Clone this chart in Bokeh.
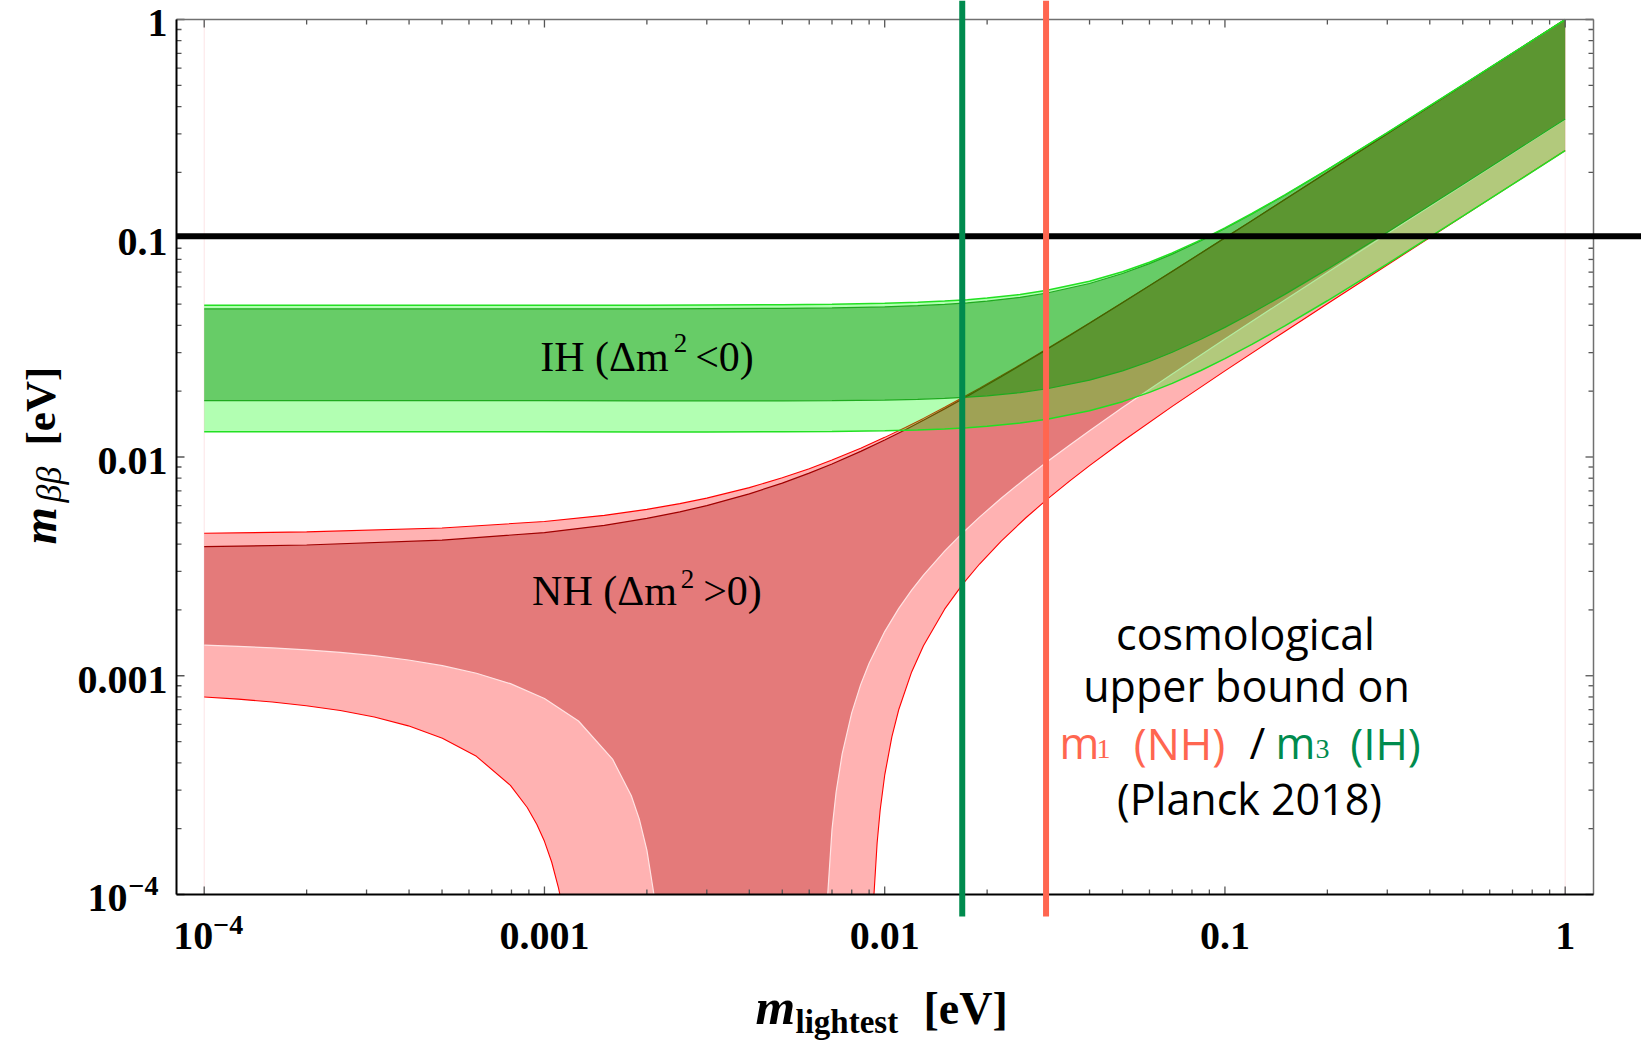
import math
from bokeh.plotting import figure
from bokeh.models import Range1d
from bokeh.core.properties import value
from bokeh.embed import file_html
from bokeh.resources import INLINE

# ---------------- data ----------------
# Normal hierarchy (lightest = m1): upper edges
nh_x = [1e-4, 2e-4, 5e-4, 1e-3, 1.5e-3, 2e-3, 2.5e-3, 3e-3, 4e-3, 5e-3, 6e-3, 7e-3, 8.5e-3,
        0.01, 0.0115, 0.013, 0.015, 0.017, 0.019, 0.022, 0.026, 0.03, 0.035, 0.04, 0.05,
        0.06, 0.07, 0.085, 0.1, 0.12, 0.15, 0.2, 0.3, 0.5, 0.7, 1.0]
nh_upper_outer = [0.004481, 0.004545, 0.004739, 0.00507, 0.00541, 0.00576, 0.006119,
                  0.006486, 0.007244, 0.008032, 0.008846, 0.009682, 0.010972, 0.012295,
                  0.013644, 0.015015, 0.016868, 0.018743, 0.020636, 0.0235, 0.027352,
                  0.031231, 0.036107, 0.041006, 0.050848, 0.060731, 0.070642, 0.085541,
                  0.100466, 0.120394, 0.150318, 0.200241, 0.300162, 0.500097, 0.70007,
                  1.00005]
nh_upper_inner = [0.003893, 0.003961, 0.004166, 0.004515, 0.004873, 0.005239, 0.005614,
                  0.005996, 0.006784, 0.007598, 0.008436, 0.009294, 0.010612, 0.011959,
                  0.01333, 0.01472, 0.016594, 0.018488, 0.020396, 0.02328, 0.027154,
                  0.03105, 0.035945, 0.040858, 0.050723, 0.060623, 0.070547, 0.08546,
                  0.100397, 0.120335, 0.150271, 0.200205, 0.300137, 0.500083, 0.700059,
                  1.00004]
# NH lower edges: two branches around the cancellation funnel (cut at the 1e-4 floor)
nh_lin_left_x = [1e-4, 1.259e-4, 1.585e-4, 1.995e-4, 2.512e-4, 3.162e-4, 3.981e-4,
                 5.012e-4, 6.31e-4, 7.943e-4, 1e-3, 1.259e-3, 1.585e-3, 1.8e-3, 1.9e-3,
                 2e-3, 2.098e-3]
nh_lin_left_y = [0.00138, 0.0013626, 0.0013406, 0.0013131, 0.0012785, 0.001235, 0.0011806,
                 0.0011123, 0.0010268, 0.0009202, 0.0007871, 0.000621, 0.000416, 0.0002826,
                 0.000221, 0.0001596, 0.0001]
nh_lin_right_x = [0.0068, 0.007, 0.0072, 0.0075, 0.008, 0.0085, 0.009, 0.01, 0.011, 0.012,
                  0.013, 0.015, 0.017, 0.019, 0.022, 0.026, 0.03, 0.035, 0.04, 0.05, 0.07,
                  0.1, 0.15, 0.2, 0.3, 0.5, 0.7, 1.0]
nh_lin_right_y = [0.0001, 0.000198, 0.000295, 0.000439, 0.000677, 0.000911, 0.001141,
                  0.001592, 0.002032, 0.002463, 0.002886, 0.003714, 0.00452, 0.005312,
                  0.006478, 0.008003, 0.009504, 0.011356, 0.01319, 0.016819, 0.023987,
                  0.034628, 0.052247, 0.069809, 0.104872, 0.174923, 0.244945, 0.349961]
nh_lout_left_x = [1e-4, 1.259e-4, 1.585e-4, 1.995e-4, 2.512e-4, 3.162e-4, 3.981e-4,
                  5.012e-4, 6.31e-4, 7.943e-4, 8.9e-4, 9.5e-4, 1e-3, 1.05e-3, 1.1e-3,
                  1.11e-3]
nh_lout_left_y = [0.0008, 0.0007818, 0.0007586, 0.0007297, 0.0006932, 0.0006476, 0.0005902,
                  0.0005181, 0.0004281, 0.0003155, 0.0002499, 0.0002089, 0.000175,
                  0.0001408, 0.0001069, 0.0001]
nh_lout_right_x = [0.0093, 0.0095, 0.0097, 0.01, 0.0105, 0.011, 0.012, 0.013, 0.015, 0.017,
                   0.019, 0.022, 0.026, 0.03, 0.035, 0.04, 0.05, 0.07, 0.1, 0.15, 0.2, 0.3,
                   0.5, 0.7, 1.0]
nh_lout_right_y = [0.0001, 0.000172, 0.000244, 0.000351, 0.000527, 0.000701, 0.001041,
                   0.001372, 0.002015, 0.002637, 0.003242, 0.004127, 0.005275, 0.006398,
                   0.007775, 0.009132, 0.011802, 0.017038, 0.024764, 0.037504, 0.050178,
                   0.075455, 0.125919, 0.176349, 0.251974]

# Inverted hierarchy (lightest = m3)
ih_x = [1e-4, 2e-4, 5e-4, 1e-3, 2e-3, 3e-3, 5e-3, 7e-3, 0.01, 0.0125, 0.015, 0.0175, 0.02,
        0.025, 0.03, 0.04, 0.05, 0.06, 0.07, 0.085, 0.1, 0.12, 0.15, 0.2, 0.3, 0.5, 0.7, 1.0]
ih_upper_outer = [0.049396, 0.049396, 0.049399, 0.049406, 0.049437, 0.049487, 0.049649,
                  0.04989, 0.050398, 0.050953, 0.051624, 0.052405, 0.053292, 0.055362,
                  0.057793, 0.063561, 0.070285, 0.077717, 0.085674, 0.098311, 0.111535,
                  0.129769, 0.157924, 0.20601, 0.304039, 0.502434, 0.70174, 1.0]
ih_upper_inner = [0.047539, 0.04754, 0.047542, 0.04755, 0.047581, 0.047634, 0.047802,
                  0.048052, 0.04858, 0.049155, 0.04985, 0.050658, 0.051575, 0.053712,
                  0.056214, 0.062129, 0.068993, 0.076551, 0.084617, 0.097391, 0.110724,
                  0.129074, 0.157353, 0.205572, 0.303743, 0.502255, 0.701612, 1.0]
ih_lower_inner = [0.018109, 0.018107, 0.018098, 0.018086, 0.018068, 0.018057, 0.018061,
                  0.018095, 0.018205, 0.018348, 0.018537, 0.018769, 0.019042, 0.019704,
                  0.020506, 0.022455, 0.024766, 0.027342, 0.030111, 0.034522, 0.039146,
                  0.045529, 0.055392, 0.072243, 0.106606, 0.176159, 0.246034, 0.35103]
ih_lower_outer = [0.01304, 0.013038, 0.013035, 0.01303, 0.013025, 0.013026, 0.013042,
                  0.01308, 0.013175, 0.013289, 0.013434, 0.013607, 0.013809, 0.014291,
                  0.014867, 0.01626, 0.017905, 0.019737, 0.021708, 0.024849, 0.028145,
                  0.032699, 0.039742, 0.051787, 0.076366, 0.126143, 0.176159, 0.251322]

# reference lines
bound_mbb = 0.102          # horizontal black line [eV]
bound_m3_ih = 0.0169       # cosmological bound on m3 (IH)
bound_m1_nh = 0.0298       # cosmological bound on m1 (NH)

# axes
box_x = [8.29e-5, 1.2112]          # x extent of the plot box
box_y = [1e-4, 1.0]                # y extent of the plot box
x_major = [1e-4, 1e-3, 1e-2, 1e-1, 1.0]
x_major_text = ["10", "0.001", "0.01", "0.1", "1"]
x_major_exp = ["\u22124", "", "", "", ""]
y_major = [1e-4, 1e-3, 1e-2, 1e-1, 1.0]
y_major_text = ["10", "0.001", "0.01", "0.1", "1"]
y_major_exp = ["\u22124", "", "", "", ""]
minor_mantissa = [2, 3, 4, 5, 6, 7, 8, 9]
x_minor = [m * t for t in x_major[:-1] for m in minor_mantissa]
y_minor = [m * t for t in y_major[:-1] for m in minor_mantissa]

# ---------------- geometry ----------------
W, H = 1641, 1043
BOX_L, BOX_R, BOX_T, BOX_B = 176, 1593, 19, 894      # plot box in canvas pixels
dec_x = (BOX_R - BOX_L) / math.log10(box_x[1] / box_x[0])
dec_y = (BOX_B - BOX_T) / math.log10(box_y[1] / box_y[0])
LX0 = math.log10(box_x[0]) - BOX_L / dec_x
LY0 = math.log10(box_y[1]) + BOX_T / dec_y


def X(px):
    return 10 ** (LX0 + px / dec_x)


def Y(py):
    return 10 ** (LY0 - py / dec_y)


def PX(xv):
    return (math.log10(xv) - LX0) * dec_x


def PY(yv):
    return (LY0 - math.log10(yv)) * dec_y


def dx(v, px):          # shift a data x value by px pixels
    return v * 10 ** (px / dec_x)


def dy(v, px):          # shift a data y value by px pixels (up is +)
    return v * 10 ** (px / dec_y)


p = figure(width=W, height=H, x_axis_type="log", y_axis_type="log",
           x_range=Range1d(X(0), X(W)), y_range=Range1d(Y(H), Y(0)),
           output_backend="svg", toolbar_location=None, title=None,
           x_axis_location=None, y_axis_location=None, min_border=0,
           background_fill_color="white", border_fill_color="white")
p.xgrid.visible = False
p.ygrid.visible = False
p.outline_line_color = None

# faint edges of the filled region
p.segment(x0=[ih_x[0], ih_x[-1]], y0=[box_y[0]] * 2, x1=[ih_x[0], ih_x[-1]],
          y1=[box_y[1]] * 2, line_color="#FCE4E6", line_width=1)

# ----- NH band -----
nh_out_px = nh_x + nh_lout_right_x[::-1] + nh_lout_left_x[::-1]
nh_out_py = nh_upper_outer + nh_lout_right_y[::-1] + nh_lout_left_y[::-1]
nh_in_px = nh_x + nh_lin_right_x[::-1] + nh_lin_left_x[::-1]
nh_in_py = nh_upper_inner + nh_lin_right_y[::-1] + nh_lin_left_y[::-1]
p.patch(nh_out_px, nh_out_py, fill_color="#FF0000", fill_alpha=0.30, line_color=None)
p.patch(nh_in_px, nh_in_py, fill_color="#A90000", fill_alpha=0.315, line_color=None)
p.line(nh_lin_left_x, nh_lin_left_y, line_color="#FFE4E4", line_width=1.2)
p.line(nh_lin_right_x, nh_lin_right_y, line_color="#FFE4E4", line_width=1.2)
p.line(nh_x, nh_upper_outer, line_color="#FF0000", line_width=1.1)
p.line(nh_x, nh_upper_inner, line_color="#A00000", line_width=1.2)
p.line(nh_lout_left_x, nh_lout_left_y, line_color="#FF0000", line_width=1.1)
p.line(nh_lout_right_x, nh_lout_right_y, line_color="#FF0000", line_width=1.1)

# ----- IH band -----
p.patch(ih_x + ih_x[::-1], ih_upper_outer + ih_lower_outer[::-1],
        fill_color="#00FF00", fill_alpha=0.30, line_color=None)
p.patch(ih_x + ih_x[::-1], ih_upper_inner + ih_lower_inner[::-1],
        fill_color="#008600", fill_alpha=0.42, line_color=None)
p.line(ih_x, ih_upper_inner, line_color="#1FAA1F", line_width=1.2)
p.line(ih_x, ih_lower_inner, line_color="#1FAA1F", line_width=1.2)
p.line(ih_x, ih_upper_outer, line_color="#22E022", line_width=1.5)
p.line(ih_x, ih_lower_outer, line_color="#22E022", line_width=1.5)

# ----- frame and ticks -----
TICK = "#555555"
for ticks, ln in [(x_major, 8), (x_minor, 5)]:
    p.segment(x0=ticks, x1=ticks, y0=[box_y[0]] * len(ticks),
              y1=[dy(box_y[0], ln)] * len(ticks), line_color=TICK, line_width=1.3)
    p.segment(x0=ticks, x1=ticks, y0=[box_y[1]] * len(ticks),
              y1=[dy(box_y[1], -ln)] * len(ticks), line_color=TICK, line_width=1.3)
for ticks, ln in [(y_major, 8), (y_minor, 5)]:
    p.segment(y0=ticks, y1=ticks, x0=[box_x[0]] * len(ticks),
              x1=[dx(box_x[0], ln)] * len(ticks), line_color=TICK, line_width=1.3)
    p.segment(y0=ticks, y1=ticks, x0=[box_x[1]] * len(ticks),
              x1=[dx(box_x[1], -ln)] * len(ticks), line_color=TICK, line_width=1.3)
# top / right (grey), bottom / left (black)
p.segment(x0=[box_x[0], box_x[1]], y0=[box_y[1], box_y[0]], x1=[box_x[1], box_x[1]],
          y1=[box_y[1], box_y[1]], line_color="#707070", line_width=1.5)
p.segment(x0=[box_x[0], box_x[0]], y0=[box_y[0], box_y[0]], x1=[box_x[1], box_x[0]],
          y1=[box_y[0], box_y[1]], line_color="black", line_width=2)

# ----- bound lines (they run past the plot box, as in the reference) -----
p.segment(x0=[box_x[0]], x1=[X(W)], y0=[bound_mbb], y1=[bound_mbb],
          line_color="black", line_width=6)
p.segment(x0=[bound_m3_ih], x1=[bound_m3_ih], y0=[Y(0)], y1=[dy(box_y[0], -22)],
          line_color="#008B4E", line_width=6)
p.segment(x0=[bound_m1_nh], x1=[bound_m1_nh], y0=[Y(0)], y1=[dy(box_y[0], -22)],
          line_color="#FF6650", line_width=6)

# ----- text helpers (positions in canvas pixels of the text baseline) -----
BASE_FIX = 0.34      # renderer draws "alphabetic" text this many em too low


def txt(px, py, text, font="Liberation Serif", size=40, style="normal", color="black",
        align="center", angle=0.0):
    if angle == 0.0:
        py = py - BASE_FIX * size
    else:
        px = px - BASE_FIX * size
    p.text(x=[X(px)], y=[Y(py)], text=[text], text_font=value(font),
           text_font_size=value(f"{size}px"), text_font_style=value(style),
           text_color=color, text_align=value(align), text_baseline=value("alphabetic"),
           angle=angle)


# tick labels (bold serif); powers of ten get a raised exponent
XL_BASE = BOX_B + 55
for xv, t, e in zip(x_major, x_major_text, x_major_exp):
    if e:
        txt(PX(xv) + 9, XL_BASE, t, size=40, style="bold", align="right")
        txt(PX(xv) + 9, XL_BASE - 15, e, size=28, style="bold", align="left")
    else:
        txt(PX(xv), XL_BASE, t, size=40, style="bold", align="center")
YL_RIGHT = BOX_L - 9
for yv, t, e in zip(y_major, y_major_text, y_major_exp):
    if e:
        txt(YL_RIGHT - 40, PY(yv) + 17.5, t, size=40, style="bold", align="right")
        txt(YL_RIGHT - 39, PY(yv) + 1, e, size=28, style="bold", align="left")
    else:
        txt(YL_RIGHT, PY(yv) + 17.5, t, size=40, style="bold", align="right")

# band names
txt(604, 370.7, "IH (\u0394m", size=42)
txt(680, 351.7, "2", size=27)
txt(724, 370.7, "<0)", size=42)
txt(604, 605, "NH (\u0394m", size=42)
txt(687, 588, "2", size=27)
txt(732, 605, ">0)", size=42)

# cosmological bound annotation
RED, GRN = "#FF6650", "#008B4E"
SANS = "Open Sans"
txt(1245, 648, "cosmological", font=SANS, size=43)
txt(1246, 700, "upper bound on", font=SANS, size=43)
txt(1079, 757, "m", font=SANS, size=43, color=RED)
txt(1103, 758, "1", size=28, color=RED)
txt(1179, 757, "(NH)", font=SANS, size=44, color=RED)
txt(1257, 757, "/", font=SANS, size=43)
txt(1295, 757, "m", font=SANS, size=43, color=GRN)
txt(1322, 758, "3", size=28, color=GRN)
txt(1385, 757, "(IH)", font=SANS, size=44, color=GRN)
txt(1249, 813, "(Planck 2018)", font=SANS, size=43)

# axis titles
txt(755, 1024, "m", size=51, style="bold italic", align="left")
txt(795, 1033, "lightest", size=33, style="bold", align="left")
txt(923, 1024, "[eV]", size=46, style="bold", align="left")

A = math.pi / 2
txt(55, 544, "m", size=48, style="bold italic", align="left", angle=A)
txt(61, 502, "\u03b2\u03b2", size=36, style="italic", align="left", angle=A)
txt(55, 445, "[eV]", size=43, style="bold", align="left", angle=A)

open("out.html", "w").write(file_html(p, INLINE))
